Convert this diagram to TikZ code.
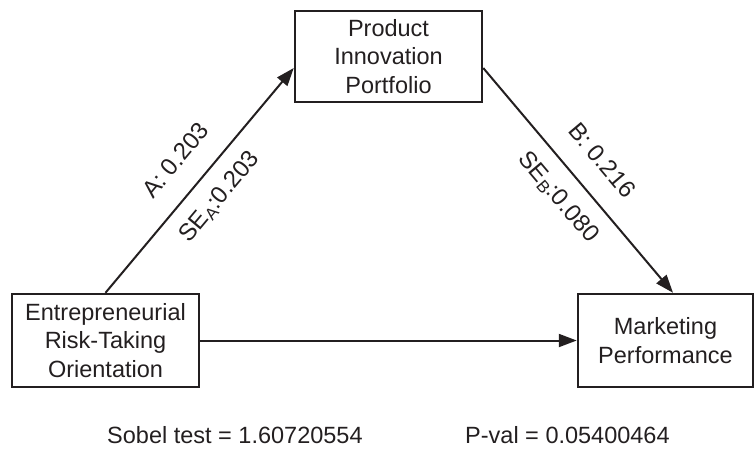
\documentclass[tikz,border=0pt]{standalone}
\usepackage{fontspec}
\setmainfont{Liberation Sans}
\usetikzlibrary{arrows.meta}
\definecolor{ink}{HTML}{231F20}
\begin{document}
\begin{tikzpicture}[x=1pt,y=-1pt]
\tikzset{boite/.style={draw=ink, line width=2.5pt, align=center, inner sep=0pt, text=ink, font=\fontsize{23.5}{28.5}\selectfont},
fleche/.style={draw=ink, line width=2pt, -{Triangle[length=18pt,width=13pt]}},
coef/.style={font=\fontsize{24}{28}\selectfont, text=ink, sloped, pos=0.5, inner sep=0pt},
texte/.style={font=\fontsize{23.5}{28.5}\selectfont, text=ink, inner sep=0pt, anchor=base west}}
\useasboundingbox (0,0) rectangle (755,448);
\node[boite, minimum width=187pt, minimum height=93pt] (ERT) at (105.5,340.5) {Entrepreneurial\\Risk-Taking\\Orientation};
\node[boite, minimum width=187pt, minimum height=91pt] (PIP) at (388.5,56.5) {Product\\Innovation\\Portfolio};
\node[boite, minimum width=175pt, minimum height=93pt] (MP) at (665.5,340.5) {Marketing\\Performance};
\draw[fleche] (ERT.north) -- node[coef, above=22pt] {A: 0.203} node[coef, below=15pt] {SE\textsubscript{A}:0.203} ([yshift=-11.5pt]PIP.west);
\draw[fleche] ([yshift=-11.5pt]PIP.east) -- node[coef, above=22pt] {B: 0.216} node[coef, below=15pt] {SE\textsubscript{B}:0.080} ([xshift=7.5pt]MP.north);
\draw[fleche] (ERT.east) -- (MP.west);
\node[texte] (sobel) at (107,443) {Sobel test = 1.60720554};
\node[texte] (pval) at (465,443) {P-val = 0.05400464};
\end{tikzpicture}
\end{document}
